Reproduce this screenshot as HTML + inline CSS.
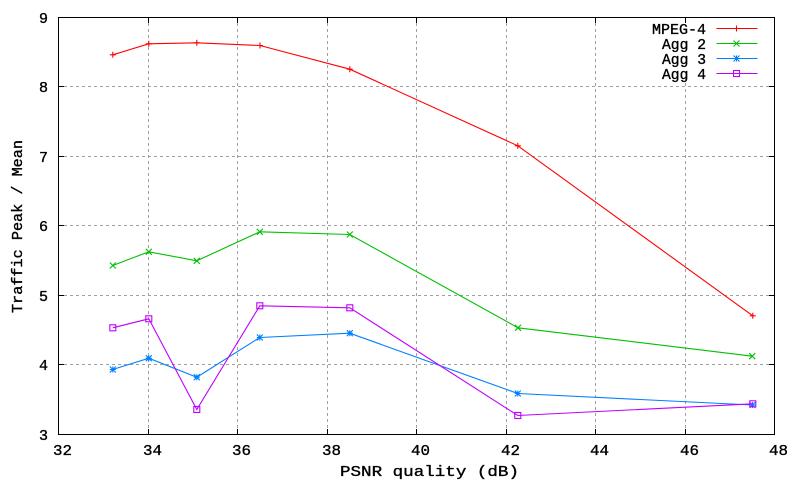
<!DOCTYPE html>
<html>
<head>
<meta charset="utf-8">
<style>
  html, body { margin: 0; padding: 0; background: #ffffff; }
  svg { display: block; }
  text { font-family: "Liberation Mono", "DejaVu Sans Mono", monospace; font-size: 15px; fill: #000; stroke: #000; stroke-width: 0.35px; }
</style>
</head>
<body>
<svg width="800" height="480" viewBox="0 0 800 480" xmlns="http://www.w3.org/2000/svg">
  <rect x="0" y="0" width="800" height="480" fill="#ffffff"/>

  <!-- grid -->
  <g stroke="#a0a0a0" stroke-width="1" stroke-dasharray="3 3" fill="none">
    <line x1="148.5" y1="17" x2="148.5" y2="434"/>
    <line x1="237.5" y1="17" x2="237.5" y2="434"/>
    <line x1="327.5" y1="17" x2="327.5" y2="434"/>
    <line x1="416.5" y1="17" x2="416.5" y2="434"/>
    <line x1="506.5" y1="17" x2="506.5" y2="434"/>
    <line x1="595.5" y1="17" x2="595.5" y2="434"/>
    <line x1="685.5" y1="17" x2="685.5" y2="434"/>
    <line x1="58" y1="86.5" x2="774" y2="86.5"/>
    <line x1="58" y1="156.5" x2="774" y2="156.5"/>
    <line x1="58" y1="225.5" x2="774" y2="225.5"/>
    <line x1="58" y1="295.5" x2="774" y2="295.5"/>
    <line x1="58" y1="364.5" x2="774" y2="364.5"/>
  </g>

  <!-- key background -->
  <rect x="646" y="22" width="124" height="57" fill="#ffffff"/>

  <!-- border -->
  <rect x="58.5" y="17.5" width="716" height="417" fill="none" stroke="#000" stroke-width="1"/>

  <!-- ticks -->
  <g stroke="#000" stroke-width="1">
    <line x1="148.5" y1="434" x2="148.5" y2="429"/><line x1="148.5" y1="18" x2="148.5" y2="23"/>
    <line x1="237.5" y1="434" x2="237.5" y2="429"/><line x1="237.5" y1="18" x2="237.5" y2="23"/>
    <line x1="327.5" y1="434" x2="327.5" y2="429"/><line x1="327.5" y1="18" x2="327.5" y2="23"/>
    <line x1="416.5" y1="434" x2="416.5" y2="429"/><line x1="416.5" y1="18" x2="416.5" y2="23"/>
    <line x1="506.5" y1="434" x2="506.5" y2="429"/><line x1="506.5" y1="18" x2="506.5" y2="23"/>
    <line x1="595.5" y1="434" x2="595.5" y2="429"/><line x1="595.5" y1="18" x2="595.5" y2="23"/>
    <line x1="685.5" y1="434" x2="685.5" y2="429"/><line x1="685.5" y1="18" x2="685.5" y2="23"/>
    <line x1="59" y1="86.5" x2="64" y2="86.5"/><line x1="774" y1="86.5" x2="769" y2="86.5"/>
    <line x1="59" y1="156.5" x2="64" y2="156.5"/><line x1="774" y1="156.5" x2="769" y2="156.5"/>
    <line x1="59" y1="225.5" x2="64" y2="225.5"/><line x1="774" y1="225.5" x2="769" y2="225.5"/>
    <line x1="59" y1="295.5" x2="64" y2="295.5"/><line x1="774" y1="295.5" x2="769" y2="295.5"/>
    <line x1="59" y1="364.5" x2="64" y2="364.5"/><line x1="774" y1="364.5" x2="769" y2="364.5"/>
  </g>

  <!-- y tick labels -->
  <g text-anchor="end">
    <text x="48" y="23">9</text>
    <text x="48" y="92">8</text>
    <text x="48" y="162">7</text>
    <text x="48" y="231">6</text>
    <text x="48" y="301">5</text>
    <text x="48" y="370">4</text>
    <text x="48" y="440">3</text>
  </g>

  <!-- x tick labels -->
  <g text-anchor="middle">
    <text x="62.5" y="455" textLength="19" lengthAdjust="spacingAndGlyphs">32</text>
    <text x="152.5" y="455" textLength="19" lengthAdjust="spacingAndGlyphs">34</text>
    <text x="241.5" y="455" textLength="19" lengthAdjust="spacingAndGlyphs">36</text>
    <text x="331.5" y="455" textLength="19" lengthAdjust="spacingAndGlyphs">38</text>
    <text x="420.5" y="455" textLength="19" lengthAdjust="spacingAndGlyphs">40</text>
    <text x="510.5" y="455" textLength="19" lengthAdjust="spacingAndGlyphs">42</text>
    <text x="599.5" y="455" textLength="19" lengthAdjust="spacingAndGlyphs">44</text>
    <text x="689.5" y="455" textLength="19" lengthAdjust="spacingAndGlyphs">46</text>
    <text x="778.5" y="455" textLength="19" lengthAdjust="spacingAndGlyphs">48</text>
  </g>

  <!-- axis labels -->
  <text x="340" y="476" textLength="179" lengthAdjust="spacingAndGlyphs">PSNR quality (dB)</text>
  <text transform="translate(22,313) rotate(-90)" x="0" y="0" textLength="173" lengthAdjust="spacingAndGlyphs">Traffic Peak / Mean</text>

  <!-- data -->
  <g transform="translate(0.5,0.5)" fill="none" stroke-width="1.1">
    <g stroke="#ff0000">
      <polyline points="112.3,54.3 148.3,43.3 196.3,42.3 259.5,45 349.3,68.7 517.3,145.3 752.3,315.3"/>
      <path d="M109.3,54.3h6M112.3,51.3v6 M145.3,43.3h6M148.3,40.3v6 M193.3,42.3h6M196.3,39.3v6 M256.5,45h6M259.5,42v6 M346.3,68.7h6M349.3,65.7v6 M514.3,145.3h6M517.3,142.3v6 M749.3,315.3h6M752.3,312.3v6"/>
    </g>
    <g stroke="#00c000">
      <polyline points="112.3,265 148.3,251.3 196.3,260.3 259.3,231.3 349.3,234 517.5,327.3 751.7,355.7"/>
      <path d="M109.3,262l6,6M109.3,268l6,-6 M145.3,248.3l6,6M145.3,254.3l6,-6 M193.3,257.3l6,6M193.3,263.3l6,-6 M256.3,228.3l6,6M256.3,234.3l6,-6 M346.3,231l6,6M346.3,237l6,-6 M514.5,324.3l6,6M514.5,330.3l6,-6 M748.7,352.7l6,6M748.7,358.7l6,-6"/>
    </g>
    <g stroke="#0080ff">
      <polyline points="112.3,369 148.3,357.7 196.3,376.7 259.3,337 349.3,332.7 517.3,393 752,404.5"/>
      <path d="M109.3,369h6M112.3,366v6M109.3,366l6,6M109.3,372l6,-6
               M145.3,357.7h6M148.3,354.7v6M145.3,354.7l6,6M145.3,360.7l6,-6
               M193.3,376.7h6M196.3,373.7v6M193.3,373.7l6,6M193.3,379.7l6,-6
               M256.3,337h6M259.3,334v6M256.3,334l6,6M256.3,340l6,-6
               M346.3,332.7h6M349.3,329.7v6M346.3,329.7l6,6M346.3,335.7l6,-6
               M514.3,393h6M517.3,390v6M514.3,390l6,6M514.3,396l6,-6
               M749,404.5h6M752,401.5v6M749,401.5l6,6M749,407.5l6,-6"/>
    </g>
    <g stroke="#c000ff">
      <polyline points="112.3,327.3 148.3,318.3 196.3,409 259.3,305.3 349.3,307.3 517.3,415 752.3,403.3"/>
      <rect x="109.3" y="324.3" width="6" height="6"/>
      <rect x="145.3" y="315.3" width="6" height="6"/>
      <rect x="193.3" y="406" width="6" height="6"/>
      <rect x="256.3" y="302.3" width="6" height="6"/>
      <rect x="346.3" y="304.3" width="6" height="6"/>
      <rect x="514.3" y="412" width="6" height="6"/>
      <rect x="749.3" y="400.3" width="6" height="6"/>
    </g>
  </g>

  <!-- legend -->
  <g text-anchor="end">
    <text x="706" y="34" textLength="54" lengthAdjust="spacingAndGlyphs">MPEG-4</text>
    <text x="706" y="49" textLength="44" lengthAdjust="spacingAndGlyphs">Agg 2</text>
    <text x="706" y="64" textLength="44" lengthAdjust="spacingAndGlyphs">Agg 3</text>
    <text x="706" y="79" textLength="44" lengthAdjust="spacingAndGlyphs">Agg 4</text>
  </g>
  <g transform="translate(0.5,0.5)" fill="none" stroke-width="1.1">
    <g stroke="#ff0000"><path d="M716,28h41 M733,28h6M736,25v6"/></g>
    <g stroke="#00c000"><path d="M716,43h41 M733,40l6,6M733,46l6,-6"/></g>
    <g stroke="#0080ff"><path d="M716,58h41 M733,58h6M736,55v6M733,55l6,6M733,61l6,-6"/></g>
    <g stroke="#c000ff"><path d="M716,73h41"/><rect x="733" y="70" width="6" height="6"/></g>
  </g>
</svg>
</body>
</html>
